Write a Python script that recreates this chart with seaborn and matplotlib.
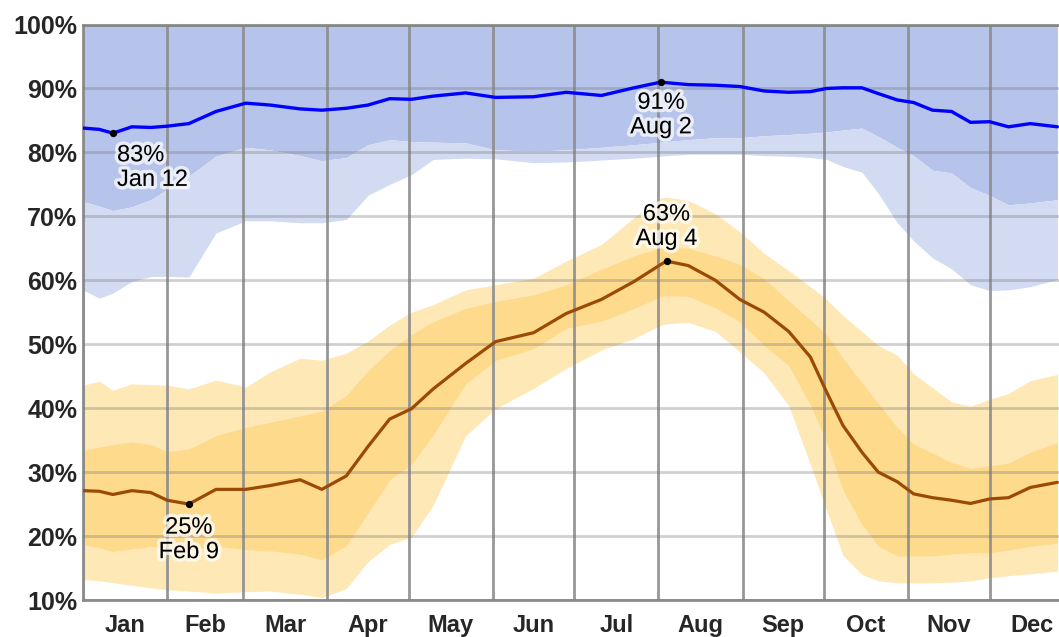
import numpy as np
import pandas as pd
import matplotlib
matplotlib.use("Agg")
import matplotlib.pyplot as plt
import matplotlib.patheffects as pe
import seaborn as sns

# =====================
# Data, day 0 = Jan 1
# =====================
DAYS = [0, 6, 11, 18, 25, 31, 39, 49, 60, 69, 80, 88, 97, 105, 113,
        121, 129, 141, 152, 166, 178, 191, 203, 213, 215, 223, 233, 242, 251, 260,
        268, 274, 280, 287, 293, 300, 306, 313, 320, 327, 334, 341, 349, 359]

# daily high humidity: median + lower percentile bands (upper bands sit at 100%)
blue_median = [83.8, 83.6, 83.0, 84.0, 83.9, 84.1, 84.5, 86.4, 87.7, 87.4,
               86.8, 86.6, 86.9, 87.4, 88.4, 88.3, 88.8, 89.3, 88.6, 88.7,
               89.4, 88.9, 90.1, 91.0, 90.9, 90.6, 90.5, 90.3, 89.6, 89.4,
               89.5, 90.0, 90.1, 90.1, 89.2, 88.2, 87.8, 86.6, 86.4, 84.7,
               84.8, 84.0, 84.5, 84.0]
blue_p25 = [72.3, 71.6, 70.9, 71.5, 72.6, 74.2, 76.3, 79.4, 80.8, 80.4,
            79.5, 78.7, 79.2, 81.2, 82.0, 81.7, 81.6, 81.5, 80.4, 80.2,
            80.4, 80.8, 81.2, 81.6, 81.7, 82.0, 82.3, 82.3, 82.6, 82.8,
            83.0, 83.2, 83.5, 83.8, 82.5, 80.8, 79.5, 77.2, 76.8, 74.5,
            73.3, 71.8, 72.1, 72.6]
blue_p10 = [58.5, 57.2, 58.0, 59.8, 60.6, 60.6, 60.5, 67.4, 69.3, 69.3,
            69.0, 69.0, 69.5, 73.3, 75.0, 76.5, 78.9, 79.1, 79.0, 78.4,
            78.5, 78.8, 79.1, 79.4, 79.5, 79.7, 79.7, 79.7, 79.5, 79.4,
            79.2, 78.9, 77.8, 76.9, 73.6, 69.0, 66.2, 63.5, 61.8, 59.3,
            58.4, 58.5, 59.0, 60.1]

# daily low humidity: median + bands
orange_median = [27.1, 27.0, 26.5, 27.1, 26.8, 25.6, 25.0, 27.3, 27.3, 27.9,
                 28.8, 27.3, 29.4, 34.0, 38.3, 39.9, 43.0, 47.0, 50.4, 51.8,
                 54.8, 57.0, 59.8, 62.5, 63.0, 62.3, 60.0, 57.0, 55.0, 52.0,
                 48.0, 42.5, 37.3, 33.1, 30.0, 28.5, 26.6, 26.0, 25.6, 25.1,
                 25.8, 26.0, 27.6, 28.4]
orange_p90 = [43.6, 44.2, 42.8, 43.8, 43.7, 43.6, 43.0, 44.4, 43.3, 45.7,
              47.8, 47.5, 48.6, 50.5, 53.0, 55.0, 56.2, 58.5, 59.3, 60.3,
              63.0, 65.6, 69.8, 72.9, 73.0, 72.5, 70.4, 67.6, 64.2, 61.5,
              59.0, 57.0, 54.5, 52.0, 49.8, 48.3, 45.4, 43.2, 41.0, 40.3,
              41.4, 42.3, 44.3, 45.3]
orange_p75 = [33.4, 33.9, 34.3, 34.7, 34.3, 33.2, 33.6, 35.7, 37.0, 37.8,
              38.8, 39.5, 42.0, 45.8, 49.0, 51.5, 53.5, 55.6, 56.7, 57.7,
              59.3, 61.7, 63.8, 65.1, 65.2, 65.0, 63.8, 62.5, 60.2, 56.8,
              53.8, 51.5, 47.8, 44.0, 40.7, 37.0, 34.4, 33.0, 31.5, 30.6,
              31.0, 31.4, 33.1, 34.6]
orange_p25 = [18.7, 18.2, 17.6, 18.0, 18.4, 18.0, 17.7, 18.4, 17.9, 17.7,
              17.2, 16.3, 18.5, 23.6, 28.8, 31.2, 35.8, 43.8, 47.5, 49.3,
              52.5, 53.6, 55.6, 57.5, 57.6, 57.5, 55.7, 53.5, 49.8, 46.7,
              40.5, 34.7, 27.2, 21.8, 18.5, 16.9, 16.9, 16.9, 17.2, 17.4,
              17.4, 17.8, 18.4, 18.9]
orange_p10 = [13.2, 13.0, 12.7, 12.3, 11.9, 11.6, 11.4, 11.1, 11.3, 11.4,
              10.9, 10.4, 11.8, 16.0, 18.7, 19.8, 24.8, 35.7, 39.9, 43.1,
              46.2, 49.1, 50.9, 53.0, 53.2, 53.4, 52.0, 48.8, 45.5, 40.4,
              31.2, 24.0, 17.0, 14.0, 13.0, 12.7, 12.7, 12.7, 12.8, 13.0,
              13.5, 13.8, 14.1, 14.5]

MONTHS = ['Jan', 'Feb', 'Mar', 'Apr', 'May', 'Jun',
          'Jul', 'Aug', 'Sep', 'Oct', 'Nov', 'Dec']
MONTH_STARTS = [0, 31, 59, 90, 120, 151, 181, 212, 243, 273, 304, 334, 365]

ANNOT_DAYS = [11, 39, 213, 215]
ANNOT_VALUES = [83, 25, 91, 63]
ANNOT_LABELS = ['83%\nJan 12', '25%\nFeb 9', '91%\nAug 2', '63%\nAug 4']

df = pd.DataFrame({'day': DAYS, 'high': blue_median, 'low': orange_median})

# =====================
# Figure
# =====================
sns.set_style("white")
plt.rcParams['font.family'] = ['Liberation Sans', 'DejaVu Sans']

fig = plt.figure(figsize=(10.59, 6.37), dpi=100)
ax = fig.add_axes([83 / 1059, 37 / 637, 976 / 1059, 575.5 / 637])

# blue bands (daily high)
ax.fill_between(DAYS, blue_p25, 100, color='#b6c3ea', lw=0, zorder=1)
ax.fill_between(DAYS, blue_p10, blue_p25, color='#d3dbf2', lw=0, zorder=1)

# orange bands (daily low)
ax.fill_between(DAYS, orange_p10, orange_p90, color='#fee8b6', lw=0, zorder=1)
ax.fill_between(DAYS, orange_p25, orange_p75, color='#fdda8c', lw=0, zorder=1)

sns.lineplot(data=df, x='day', y='high', color='#0000ff', lw=2.4, ax=ax, zorder=4)
sns.lineplot(data=df, x='day', y='low', color='#9a4a05', lw=2.3, ax=ax, zorder=4)

# annotations
halo = [pe.withStroke(linewidth=5, foreground='white', alpha=0.7)]
offsets = [(3, -8, 'left', 'top'), (0, -9, 'center', 'top'),
           (0, -7, 'center', 'top'), (0, 8, 'center', 'bottom')]
for d, v, lab, (dx, dy, ha, va) in zip(ANNOT_DAYS, ANNOT_VALUES, ANNOT_LABELS, offsets):
    ax.scatter([d], [v], s=18, color='black', zorder=6)
    ax.annotate(lab, (d, v), xytext=(dx, dy), textcoords='offset points',
                ha=ha, va=va, fontsize=17, color='black', linespacing=1.15,
                path_effects=halo, zorder=7)

# axes
ax.set_xlim(0, 359.6)
ax.set_ylim(10, 100)
ax.set_yticks(range(10, 101, 10))
ax.set_yticklabels([f'{v}%' for v in range(10, 101, 10)],
                   fontsize=18, fontweight='bold')
mids = [(MONTH_STARTS[i] + MONTH_STARTS[i + 1]) / 2 for i in range(12)]
ax.set_xticks(mids)
ax.set_xticklabels(MONTHS, fontsize=17, fontweight='bold')
ax.set_xticks(MONTH_STARTS[:12], minor=True)
ax.tick_params(axis='both', which='both', length=0)
ax.tick_params(axis='y', pad=4)
ax.tick_params(axis='x', pad=10)
ax.set_xlabel('')
ax.set_ylabel('')

ax.set_axisbelow(False)
ax.grid(False)
ax.yaxis.grid(True, color='#7a7a7a', alpha=0.35, lw=2)
ax.xaxis.grid(True, which='minor', color='#8c8c8c', lw=2, alpha=0.9)

for side in ['left', 'top', 'bottom']:
    ax.spines[side].set_color('#8c8c8c')
    ax.spines[side].set_linewidth(2)
ax.spines['right'].set_visible(False)

plt.savefig('out.png', dpi=100)
